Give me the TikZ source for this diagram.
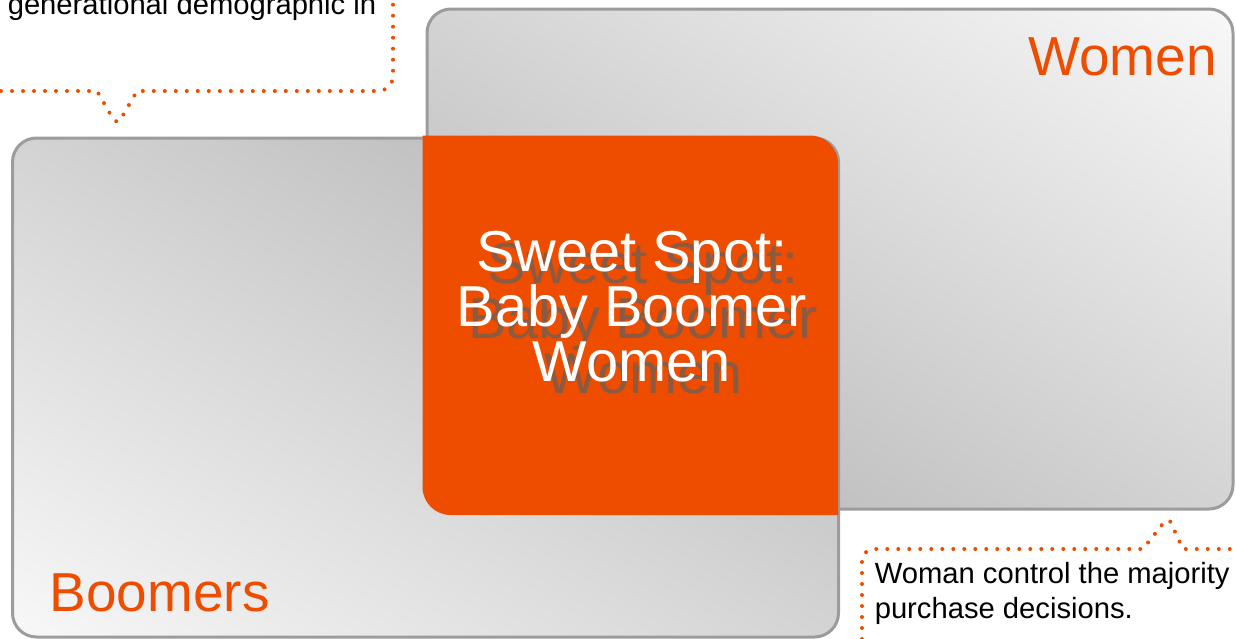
\documentclass[tikz,border=0pt]{standalone}
\usepackage{fontspec}
\setmainfont{Liberation Sans}
\definecolor{org}{RGB}{238,77,0}
\definecolor{bord}{RGB}{156,156,156}
\definecolor{shd}{RGB}{140,90,64}
\definecolor{gdark}{RGB}{175,175,175}
\definecolor{glight}{RGB}{248,248,248}
\tikzset{
  gbox/.style={draw=bord, line width=2.25pt, rounded corners=18pt},
  dotline/.style={draw=org, line width=3pt, line cap=round, dash pattern=on 0pt off 8.25pt},
  bigtext/.style={inner sep=0pt, align=center, font=\fontsize{43.3pt}{41.25pt}\selectfont},
  labtext/.style={inner sep=0pt, text=org, font=\fontsize{41.2pt}{45pt}\selectfont},
  calltext/.style={inner sep=0pt, text=black, font=\fontsize{21.9pt}{26.25pt}\selectfont}
}
\begin{document}
\begin{tikzpicture}[x=0.75pt,y=-0.75pt]
\useasboundingbox (0,0) rectangle (1236,639);
\clip (0,0) rectangle (1236,639);
% Women box: light top-right, dark bottom-left
\begin{scope}
  \clip[rounded corners=18pt] (427,9) rectangle (1233,509);
  \shade[top color=glight, bottom color=gdark, shading angle=-32] (405,-166) rectangle (1255,684);
\end{scope}
\draw[gbox] (427,9) rectangle (1233,509);
% Boomers box: light bottom-left, dark top-right
\begin{scope}
  \clip[rounded corners=18pt] (12.5,138) rectangle (838.5,637);
  \shade[top color=gdark, bottom color=glight, shading angle=-31] (-2.5,-40.5) rectangle (853.5,815.5);
\end{scope}
\draw[gbox] (12.5,138) rectangle (838.5,637);
% Sweet spot box
\fill[org] (422.5,135.5) -- (810,135.5) arc (-90:0:28) -- (838,515) -- (450.5,515) arc (90:180:28) -- cycle;
% texts
\node[bigtext, text=shd, anchor=north] (sweetshadow) at (643.2,242.5) {Sweet Spot:\\Baby Boomer\\Women};
\node[bigtext, text=white, anchor=north] (sweet) at (631.7,231) {Sweet Spot:\\Baby Boomer\\Women};
\node[labtext, anchor=base east] (women) at (1217,75.5) {Women};
\node[labtext, anchor=base west] (boomers) at (49.5,611.5) {Boomers};
\node[calltext, anchor=base west] (gen) at (7.5,15) {generational demographic in};
\node[calltext, anchor=north west, align=left] (woman) at (874.5,562) {Woman control the majority\\purchase decisions.};
% callouts
\draw[dotline] (-10,91) -- (97,91) -- (112,117) -- (117,122) -- (122,117) -- (137,91) -- (378,91) arc (90:0:15) -- (393,-10);
\draw[dotline] (862,650) -- (862,561) arc (180:270:12) -- (1143,549) -- (1165,521) -- (1170,521) -- (1183,549) -- (1250,549);
\end{tikzpicture}
\end{document}
